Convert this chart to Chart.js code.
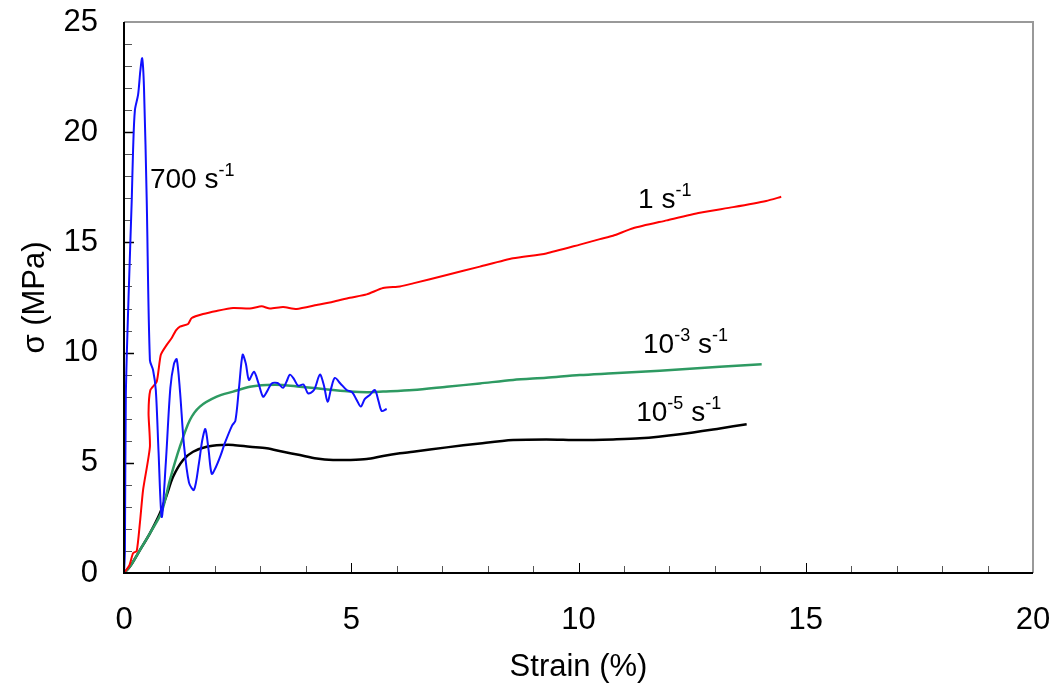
<!DOCTYPE html>
<html>
<head>
<meta charset="utf-8">
<script src="https://cdn.jsdelivr.net/npm/chart.js@4.4.0/dist/chart.umd.min.js"></script>
<style>
html, body { margin: 0; padding: 0; background: #fff; }
#wrap { width: 1057px; height: 692px; }
</style>
</head>
<body>
<div id="wrap"><canvas id="stressChart" width="1057" height="692"></canvas></div>
<script>
// strain (%) / stress (MPa)
var blueStrain = [0, 0.02, 0.04, 0.10, 0.17, 0.20, 0.24, 0.31, 0.36, 0.40, 0.44, 0.50, 0.57, 0.64, 0.70, 0.76, 0.83, 0.92, 1.02, 1.10, 1.16, 1.23, 1.32, 1.43, 1.54, 1.65, 1.72, 1.79, 1.86, 1.93, 2.02, 2.12, 2.22, 2.38, 2.45, 2.53, 2.61, 2.68, 2.75, 2.86, 2.96, 3.06, 3.15, 3.25, 3.38, 3.50, 3.58, 3.65, 3.74, 3.83, 3.95, 4.05, 4.18, 4.31, 4.40, 4.48, 4.56, 4.64, 4.76, 4.90, 5.02, 5.12, 5.21, 5.30, 5.42, 5.52, 5.60, 5.67, 5.78];
var blueStress = [0, 1.0, 8.0, 12.5, 16.9, 19.2, 21.0, 21.7, 22.8, 23.35, 22.0, 16.9, 9.66, 9.2, 8.3, 5.5, 2.54, 5.0, 8.4, 9.5, 9.7, 8.3, 5.8, 4.1, 3.77, 5.0, 6.0, 6.53, 5.6, 4.5, 4.8, 5.3, 5.9, 6.7, 6.9, 8.4, 9.9, 9.5, 8.76, 9.13, 8.6, 8.0, 8.25, 8.6, 8.62, 8.4, 8.7, 9.0, 8.8, 8.5, 8.55, 8.15, 8.3, 9.0, 8.5, 7.77, 8.4, 8.85, 8.6, 8.3, 8.2, 7.85, 7.55, 7.9, 8.1, 8.3, 7.8, 7.35, 7.44];

var redStrain = [0, 0.12, 0.20, 0.28, 0.35, 0.42, 0.57, 0.54, 0.58, 0.72, 0.81, 0.94, 1.05, 1.14, 1.23, 1.41, 1.49, 1.74, 2.04, 2.40, 2.77, 3.03, 3.21, 3.50, 3.80, 4.24, 4.60, 4.97, 5.34, 5.70, 6.07, 6.36, 7.10, 7.83, 8.56, 9.29, 10.03, 10.47, 10.76, 11.20, 11.94, 12.67, 13.40, 14.13, 14.46];
var redStress = [0, 0.36, 0.9, 1.0, 2.27, 3.77, 5.73, 7.26, 8.3, 8.68, 9.9, 10.35, 10.66, 11.0, 11.18, 11.3, 11.57, 11.75, 11.89, 12.02, 12.0, 12.1, 12.0, 12.07, 11.98, 12.16, 12.31, 12.49, 12.64, 12.93, 13.0, 13.14, 13.52, 13.9, 14.28, 14.5, 14.9, 15.15, 15.3, 15.64, 16.0, 16.35, 16.6, 16.88, 17.07];

var greenStrain = [0, 0.13, 0.35, 0.57, 0.83, 1.01, 1.23, 1.45, 1.67, 2.04, 2.40, 2.77, 3.14, 3.50, 3.87, 4.24, 4.60, 4.97, 5.34, 5.70, 6.36, 7.10, 7.83, 8.56, 9.29, 10.03, 10.76, 11.79, 13.11, 14.03];
var greenStress = [0, 0.29, 1.04, 1.8, 2.78, 4.22, 5.73, 6.94, 7.55, 8.0, 8.23, 8.45, 8.53, 8.53, 8.45, 8.38, 8.3, 8.23, 8.2, 8.23, 8.3, 8.45, 8.6, 8.76, 8.86, 8.98, 9.06, 9.18, 9.36, 9.47];

var blackStrain = [0, 0.13, 0.35, 0.57, 0.79, 0.94, 1.08, 1.30, 1.52, 1.82, 2.18, 2.40, 2.77, 3.14, 3.50, 3.87, 4.24, 4.60, 4.97, 5.34, 5.70, 6.07, 6.36, 7.10, 7.83, 8.56, 9.29, 10.03, 10.76, 11.35, 12.23, 13.11, 13.70];
var blackStress = [0, 0.29, 1.04, 1.8, 2.71, 3.54, 4.37, 5.13, 5.5, 5.73, 5.81, 5.81, 5.73, 5.66, 5.5, 5.35, 5.2, 5.13, 5.13, 5.17, 5.31, 5.43, 5.5, 5.7, 5.88, 6.03, 6.06, 6.03, 6.06, 6.11, 6.3, 6.56, 6.75];

// curve labels: anchor (strain, stress) of the text baseline start
var labelX = [0.57, 11.31, 11.42, 11.27];
var labelY = [17.46, 16.57, 9.98, 6.91];
var labelParts = [
    [['700 s', 0], ['-1', 1]],
    [['1 s', 0], ['-1', 1]],
    [['10', 0], ['-3', 1], [' s', 0], ['-1', 1]],
    [['10', 0], ['-5', 1], [' s', 0], ['-1', 1]]
];

var FONT = '"Liberation Sans", Arial, sans-serif';

function toPoints(xs, ys) {
    return xs.map(function (x, i) { return {x: x, y: ys[i]}; });
}

// keep tick label overflow from pushing the plot area around
function noOverflow(s) {
    s.paddingTop = 0;
    s.paddingBottom = 0;
    s.paddingLeft = 0;
    s.paddingRight = 0;
}

var framePlugin = {
    id: 'frame',
    beforeDatasetsDraw: function (chart) {
        var ctx = chart.ctx, a = chart.chartArea;
        var xs = chart.scales.x, ys = chart.scales.y;
        ctx.save();
        for (var i = 1; i < 20; i++) {
            var px = Math.round(xs.getPixelForValue(i)) + 0.5;
            var major = i % 5 === 0;
            ctx.strokeStyle = major ? '#000' : '#555';
            ctx.lineWidth = 1;
            ctx.beginPath();
            ctx.moveTo(px, a.bottom);
            ctx.lineTo(px, a.bottom - (major ? 10 : 7));
            ctx.stroke();
        }
        for (var j = 1; j < 25; j++) {
            var py = Math.round(ys.getPixelForValue(j)) + 0.5;
            var maj = j % 5 === 0;
            ctx.strokeStyle = maj ? '#000' : '#555';
            ctx.lineWidth = maj ? 1.5 : 1;
            ctx.beginPath();
            ctx.moveTo(a.left, py);
            ctx.lineTo(a.left + (maj ? 10 : 8), py);
            ctx.stroke();
        }
        ctx.restore();
    },
    afterDraw: function (chart) {
        var ctx = chart.ctx, a = chart.chartArea;
        var xs = chart.scales.x, ys = chart.scales.y;
        ctx.save();
        ctx.lineWidth = 2;
        ctx.strokeStyle = '#999';
        ctx.beginPath();
        ctx.moveTo(a.left, a.top);
        ctx.lineTo(a.right, a.top);
        ctx.lineTo(a.right, a.bottom);
        ctx.stroke();
        ctx.strokeStyle = '#000';
        ctx.beginPath();
        ctx.moveTo(a.left, a.top);
        ctx.lineTo(a.left, a.bottom);
        ctx.lineTo(a.right, a.bottom);
        ctx.stroke();

        // curve labels with superscripts
        ctx.fillStyle = '#000';
        ctx.textBaseline = 'alphabetic';
        ctx.textAlign = 'left';
        labelParts.forEach(function (parts, k) {
            var x = xs.getPixelForValue(labelX[k]);
            var y = ys.getPixelForValue(labelY[k]);
            parts.forEach(function (p) {
                ctx.font = (p[1] ? '18px ' : '28px ') + FONT;
                ctx.fillText(p[0], x, p[1] ? y - 12 : y);
                x += ctx.measureText(p[0]).width;
            });
        });
        ctx.restore();
    }
};

Chart.defaults.font.family = FONT;
Chart.defaults.color = '#000';

var config = {
    type: 'line',
    data: {
        datasets: [
            {label: '700 s-1', data: toPoints(blueStrain, blueStress), borderColor: '#1010ff', borderWidth: 2, tension: 0.3},
            {label: '1 s-1', data: toPoints(redStrain, redStress), borderColor: '#ff0000', borderWidth: 2, tension: 0.2},
            {label: '1e-3 s-1', data: toPoints(greenStrain, greenStress), borderColor: '#2e9a62', borderWidth: 2.5, tension: 0.3},
            {label: '1e-5 s-1', data: toPoints(blackStrain, blackStress), borderColor: '#000000', borderWidth: 2.5, tension: 0.3}
        ]
    },
    options: {
        responsive: false,
        animation: false,
        devicePixelRatio: 1,
        layout: {padding: {top: 22, right: 24, left: 0, bottom: 0}},
        elements: {point: {radius: 0}},
        plugins: {legend: {display: false}, tooltip: {enabled: false}},
        scales: {
            x: {
                type: 'linear',
                min: 0,
                max: 20,
                grid: {display: false},
                border: {display: false},
                ticks: {stepSize: 5, padding: 21, font: {size: 31}, maxRotation: 0},
                title: {display: true, text: 'Strain (%)', font: {size: 31}, padding: {top: 0, bottom: 6}},
                afterFit: function (s) { s.height = 119; noOverflow(s); }
            },
            y: {
                min: 0,
                max: 25,
                grid: {display: false},
                border: {display: false},
                ticks: {stepSize: 5, padding: 18, font: {size: 31}},
                title: {display: true, text: 'σ (MPa)', font: {size: 31}, padding: {top: 17, bottom: 0}},
                afterFit: function (s) { s.width = 124; noOverflow(s); }
            }
        }
    },
    plugins: [framePlugin]
};

var ctx = document.getElementById('stressChart').getContext('2d');
var stressChart = new Chart(ctx, config);
</script>
</body>
</html>
